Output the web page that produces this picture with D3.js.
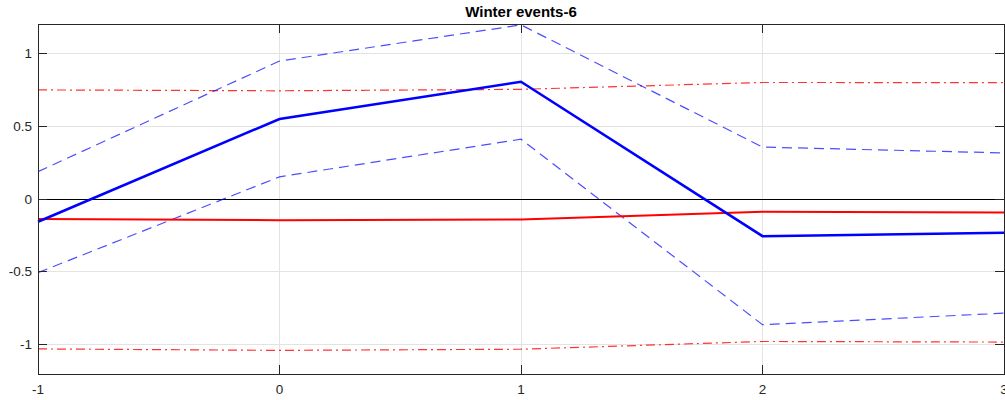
<!DOCTYPE html>
<html>
<head>
<meta charset="utf-8">
<script src="https://cdn.jsdelivr.net/npm/d3@7"></script>
<style>
  html, body { margin: 0; padding: 0; background: #fff; }
  svg { display: block; font-family: "Liberation Sans", Arial, Helvetica, sans-serif; }
</style>
</head>
<body>
<svg id="chart" width="1005" height="400"></svg>
<script>
// Horizons (periods relative to the event)
const horizons = [-1, 0, 1, 2, 3];

// Response of the first variable with its confidence band
const blueMean  = [-0.156, 0.549, 0.804, -0.255, -0.231];
const blueUpper = [0.188, 0.946, 1.194, 0.356, 0.316];
const blueLower = [-0.505, 0.152, 0.410, -0.862, -0.783];

// Response of the second variable with its confidence band
const redMean  = [-0.137, -0.145, -0.140, -0.088, -0.093];
const redUpper = [0.748, 0.742, 0.752, 0.799, 0.798];
const redLower = [-1.028, -1.038, -1.030, -0.977, -0.981];

const xTicks = [-1, 0, 1, 2, 3];
const yTicks = [-1, -0.5, 0, 0.5, 1];
const titleText = "Winter events-6";

const svg = d3.select("#chart");
const plotLeft = 38, plotRight = 1004, plotTop = 24, plotBottom = 374;
const axisColor = "#262626";
const tickLen = 9;

const x = d3.scaleLinear().domain([-1, 3]).range([plotLeft, plotRight]);
const y = d3.scaleLinear().domain([-1.2, 1.2]).range([plotBottom, plotTop]);

// grid
const grid = svg.append("g");
grid.selectAll("line.gx").data(xTicks).join("line")
  .attr("x1", d => x(d)).attr("x2", d => x(d))
  .attr("y1", plotTop).attr("y2", plotBottom)
  .attr("stroke", "#e3e3e3").attr("stroke-width", 1)
  .attr("shape-rendering", "crispEdges");
grid.selectAll("line.gy").data(yTicks).join("line")
  .attr("x1", plotLeft).attr("x2", plotRight)
  .attr("y1", d => y(d)).attr("y2", d => y(d))
  .attr("stroke", "#e3e3e3").attr("stroke-width", 1)
  .attr("shape-rendering", "crispEdges");

// zero reference line
svg.append("line")
  .attr("x1", plotLeft).attr("x2", plotRight)
  .attr("y1", y(0)).attr("y2", y(0))
  .attr("stroke", "#000").attr("stroke-width", 1)
  .attr("shape-rendering", "crispEdges");

const line = d3.line().x((d, i) => x(horizons[i])).y(d => y(d));

const plot = svg.append("g");
function drawSeries(values, color, width, dash, opacity) {
  plot.append("path")
    .datum(values)
    .attr("d", line)
    .attr("fill", "none")
    .attr("stroke", color)
    .attr("stroke-width", width)
    .attr("stroke-opacity", opacity)
    .attr("stroke-dasharray", dash)
    .attr("stroke-linejoin", "miter");
}

drawSeries(redUpper, "#ff0000", 1.2, "9,4,2,4", 0.8);
drawSeries(redLower, "#ff0000", 1.2, "9,4,2,4", 0.8);
drawSeries(blueUpper, "#0000ff", 1.2, "10,6", 0.7);
drawSeries(blueLower, "#0000ff", 1.2, "10,6", 0.7);
drawSeries(redMean, "#ff0000", 2, null, 1);
drawSeries(blueMean, "#0000ff", 2.6, null, 1);

// axes box
svg.append("rect")
  .attr("x", plotLeft).attr("y", plotTop)
  .attr("width", plotRight - plotLeft).attr("height", plotBottom - plotTop)
  .attr("fill", "none").attr("stroke", axisColor).attr("stroke-width", 1)
  .attr("shape-rendering", "crispEdges");

// tick marks (inside, on all four sides)
const ticks = svg.append("g").attr("stroke", axisColor).attr("stroke-width", 1)
  .attr("shape-rendering", "crispEdges");
ticks.selectAll("line.xb").data(xTicks).join("line")
  .attr("x1", d => x(d)).attr("x2", d => x(d))
  .attr("y1", plotBottom).attr("y2", plotBottom - tickLen);
ticks.selectAll("line.xt").data(xTicks).join("line")
  .attr("x1", d => x(d)).attr("x2", d => x(d))
  .attr("y1", plotTop).attr("y2", plotTop + tickLen);
ticks.selectAll("line.yl").data(yTicks).join("line")
  .attr("x1", plotLeft).attr("x2", plotLeft + tickLen)
  .attr("y1", d => y(d)).attr("y2", d => y(d));
ticks.selectAll("line.yr").data(yTicks).join("line")
  .attr("x1", plotRight).attr("x2", plotRight - tickLen)
  .attr("y1", d => y(d)).attr("y2", d => y(d));

// tick labels
svg.append("g").selectAll("text").data(xTicks).join("text")
  .attr("x", d => x(d)).attr("y", 394)
  .attr("text-anchor", "middle")
  .attr("font-size", 13.5).attr("fill", axisColor)
  .text(d => d);
svg.append("g").selectAll("text").data(yTicks).join("text")
  .attr("x", 32).attr("y", d => y(d) + 4.5)
  .attr("text-anchor", "end")
  .attr("font-size", 13.5).attr("fill", axisColor)
  .text(d => d);

// title
svg.append("text")
  .attr("x", (plotLeft + plotRight) / 2).attr("y", 17)
  .attr("text-anchor", "middle")
  .attr("font-size", 15).attr("font-weight", "bold").attr("fill", "#000")
  .text(titleText);
</script>
</body>
</html>
